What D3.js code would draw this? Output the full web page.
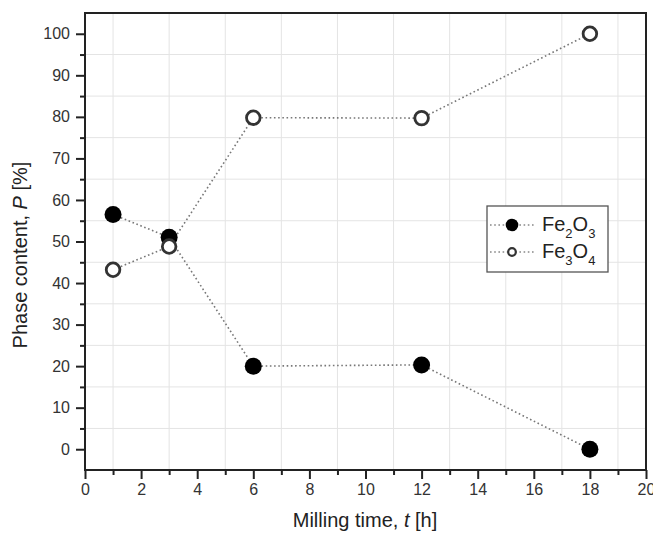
<!DOCTYPE html>
<html>
<head>
<meta charset="utf-8">
<script src="https://cdn.jsdelivr.net/npm/d3@7"></script>
<style>
  body { margin: 0; background: #fff; }
  svg { display: block; font-family: "Liberation Sans", Arial, sans-serif; }
</style>
</head>
<body>
<div id="chart"></div>
<script>
// milling time [h]
const times = [1, 3, 6, 12, 18];
// phase content [%]
const fe2o3 = [56.5, 51, 20, 20.3, 0];
const fe3o4 = [43.2, 48.8, 79.8, 79.7, 100];
const xTicks = [0, 2, 4, 6, 8, 10, 12, 14, 16, 18, 20];
const yTicks = [0, 10, 20, 30, 40, 50, 60, 70, 80, 90, 100];

const width = 653, height = 535;
const margin = {top: 13, right: 7, bottom: 65, left: 85};

const x = d3.scaleLinear().domain([0, 20]).range([margin.left, width - margin.right]);
const y = d3.scaleLinear().domain([-5, 105]).range([height - margin.bottom, margin.top]);

const svg = d3.select("#chart").append("svg")
    .attr("width", width)
    .attr("height", height);

// grid at the minor ticks
const gx = d3.range(1, 20, 2), gy = d3.range(5, 105, 10);
svg.append("g")
  .selectAll("line")
  .data(gx)
  .join("line")
    .attr("x1", d => x(d)).attr("x2", d => x(d))
    .attr("y1", y(105)).attr("y2", y(-5))
    .attr("stroke", "#e4e4e4").attr("stroke-width", 1);
svg.append("g")
  .selectAll("line")
  .data(gy)
  .join("line")
    .attr("y1", d => y(d)).attr("y2", d => y(d))
    .attr("x1", x(0)).attr("x2", x(20))
    .attr("stroke", "#e4e4e4").attr("stroke-width", 1);

// frame
svg.append("rect")
    .attr("x", x(0)).attr("y", y(105))
    .attr("width", x(20) - x(0)).attr("height", y(-5) - y(105))
    .attr("fill", "none").attr("stroke", "#222").attr("stroke-width", 2);

// minor ticks
svg.append("g")
    .attr("transform", `translate(0,${y(-5)})`)
    .call(d3.axisBottom(x).tickValues(gx).tickSize(5).tickFormat(""))
    .call(g => g.select(".domain").remove())
    .call(g => g.selectAll("line").attr("stroke", "#222").attr("stroke-width", 2));
svg.append("g")
    .attr("transform", `translate(${x(0)},0)`)
    .call(d3.axisLeft(y).tickValues(gy).tickSize(5).tickFormat(""))
    .call(g => g.select(".domain").remove())
    .call(g => g.selectAll("line").attr("stroke", "#222").attr("stroke-width", 2));

// major ticks
svg.append("g")
    .attr("transform", `translate(0,${y(-5)})`)
    .call(d3.axisBottom(x).tickValues(xTicks).tickSize(9).tickPadding(5))
    .call(g => g.select(".domain").remove())
    .call(g => g.selectAll("line").attr("stroke", "#222").attr("stroke-width", 2))
    .call(g => g.selectAll("text").attr("font-size", 16).attr("fill", "#333")
        .attr("font-family", "Liberation Sans, Arial, sans-serif"));
svg.append("g")
    .attr("transform", `translate(${x(0)},0)`)
    .call(d3.axisLeft(y).tickValues(yTicks).tickSize(9).tickPadding(6))
    .call(g => g.select(".domain").remove())
    .call(g => g.selectAll("line").attr("stroke", "#222").attr("stroke-width", 2))
    .call(g => g.selectAll("text").attr("font-size", 16).attr("fill", "#333")
        .attr("font-family", "Liberation Sans, Arial, sans-serif"));

// axis titles
const xt = svg.append("text")
    .attr("x", 365).attr("y", 527)
    .attr("text-anchor", "middle").attr("font-size", 20).attr("fill", "#222");
xt.append("tspan").text("Milling time, ");
xt.append("tspan").attr("font-style", "italic").text("t");
xt.append("tspan").text(" [h]");

const yt = svg.append("text")
    .attr("transform", "translate(27,255) rotate(-90)")
    .attr("text-anchor", "middle").attr("font-size", 20).attr("fill", "#222");
yt.append("tspan").text("Phase content, ");
yt.append("tspan").attr("font-style", "italic").text("P");
yt.append("tspan").text(" [%]");

// series
const series = [
  {name: ["Fe", "2", "O", "3"], values: fe2o3, filled: true},
  {name: ["Fe", "3", "O", "4"], values: fe3o4, filled: false}
];

const line = d3.line().x(d => x(d[0])).y(d => y(d[1]));

series.forEach(s => {
  const pts = times.map((t, i) => [t, s.values[i]]);
  svg.append("path")
      .datum(pts)
      .attr("d", line)
      .attr("fill", "none")
      .attr("stroke", "#777")
      .attr("stroke-width", 1.6)
      .attr("stroke-dasharray", "1.6,2.6");
});

series.forEach(s => {
  const pts = times.map((t, i) => [t, s.values[i]]);
  svg.append("g")
    .selectAll("circle")
    .data(pts)
    .join("circle")
      .attr("cx", d => x(d[0]))
      .attr("cy", d => y(d[1]))
      .attr("r", s.filled ? 8.5 : 6.8)
      .attr("fill", s.filled ? "#000" : "#fff")
      .attr("stroke", s.filled ? "none" : "#333")
      .attr("stroke-width", 2.8);
});

// legend
const lg = svg.append("g").attr("transform", "translate(487,206)");
lg.append("rect")
    .attr("width", 121).attr("height", 66)
    .attr("fill", "#fff").attr("stroke", "#555").attr("stroke-width", 1.3);
series.forEach((s, i) => {
  const row = lg.append("g").attr("transform", `translate(0,${19 + i * 27})`);
  row.append("line")
      .attr("x1", 3).attr("x2", 47)
      .attr("stroke", "#888").attr("stroke-width", 1.6)
      .attr("stroke-dasharray", "1.6,2.6");
  row.append("circle")
      .attr("cx", 25).attr("r", s.filled ? 6.3 : 3.8)
      .attr("fill", s.filled ? "#000" : "#fff")
      .attr("stroke", s.filled ? "none" : "#333")
      .attr("stroke-width", 2.2);
  const t = row.append("text").attr("x", 55).attr("y", 6)
      .attr("font-size", 20).attr("fill", "#222");
  t.append("tspan").text(s.name[0]);
  t.append("tspan").attr("font-size", 13).attr("dy", 7).text(s.name[1]);
  t.append("tspan").attr("dy", -7).text(s.name[2]);
  t.append("tspan").attr("font-size", 13).attr("dy", 7).text(s.name[3]);
});
</script>
</body>
</html>
